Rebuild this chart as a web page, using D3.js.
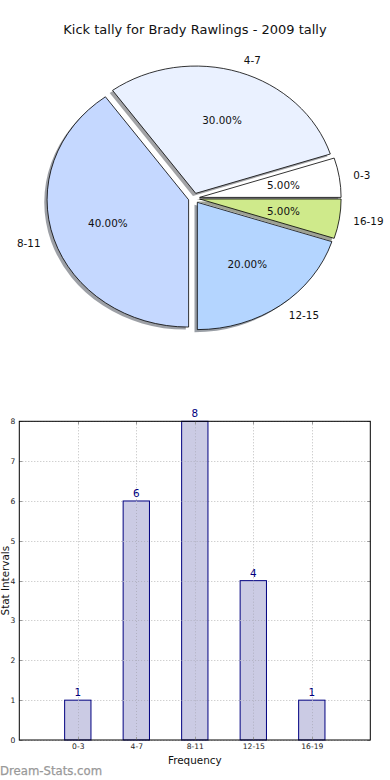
<!DOCTYPE html>
<html>
<head>
<meta charset="utf-8">
<script src="https://cdn.jsdelivr.net/npm/d3@7"></script>
<style>
  html, body { margin: 0; padding: 0; background: #fff; }
  svg { display: block; font-family: "DejaVu Sans", sans-serif; }
</style>
</head>
<body>
<svg id="chart" width="390" height="780"></svg>
<script>
const title = "Kick tally for Brady Rawlings - 2009 tally";
const categories = ["0-3", "4-7", "8-11", "12-15", "16-19"];
const counts = [1, 6, 8, 4, 1];
const pieColors = ["#ffffff", "#eaf1ff", "#c5d8ff", "#b4d5ff", "#cfea8b"];
const yTicks = [0, 1, 2, 3, 4, 5, 6, 7, 8];
const xLabel = "Frequency";
const yLabel = "Stat Intervals";
const watermark = "Dream-Stats.com";

const svg = d3.select("#chart");

svg.append("text").attr("x", 195).attr("y", 34).attr("text-anchor", "middle")
  .attr("font-size", 13).attr("fill", "#111").text(title);

// ---------- Pie (elliptical, exploded, shadowed) ----------
const P = { cx: 194, cy: 198.2, rx: 141.5, ry: 127.3, explode: 0.04 };
const total = d3.sum(counts);
const pie = d3.pie().sort(null).value(d => d)
  .startAngle(Math.PI / 2).endAngle(Math.PI / 2 - 2 * Math.PI);
const arcs = pie(counts);
const arcGen = d3.arc().innerRadius(0).outerRadius(1);
const dirOf = a => [Math.sin(a), -Math.cos(a)];

const pg = svg.append("g");
const shadowG = pg.append("g");
const wedgeG = pg.append("g");
const textG = pg.append("g");

arcs.forEach((a, i) => {
  const mid = (a.startAngle + a.endAngle) / 2;
  const [ux, uy] = dirOf(mid);
  const ox = P.cx + P.explode * ux * P.rx;
  const oy = P.cy + P.explode * uy * P.ry;
  const path = arcGen(a);
  const c = d3.rgb(pieColors[i]);
  const shade = d3.rgb(c.r * 0.3, c.g * 0.3, c.b * 0.3);
  shadowG.append("path").attr("d", path)
    .attr("transform", `translate(${ox - 0.02 * P.rx},${oy + 0.02 * P.ry}) scale(${P.rx},${P.ry})`)
    .attr("fill", shade).attr("fill-opacity", 0.5);
  wedgeG.append("path").attr("d", path)
    .attr("transform", `translate(${ox},${oy}) scale(${P.rx},${P.ry})`)
    .attr("fill", pieColors[i]).attr("stroke", "#000")
    .attr("stroke-width", 0.8).attr("vector-effect", "non-scaling-stroke")
    .attr("stroke-linejoin", "miter");
  const lx = ox + 1.1 * ux * P.rx, ly = oy + 1.1 * uy * P.ry;
  textG.append("text").attr("x", lx).attr("y", ly).attr("dy", "0.35em")
    .attr("text-anchor", (lx - P.cx) > 0 ? "start" : "end")
    .attr("font-size", 10.4).attr("fill", "#111").text(categories[i]);
  const px = ox + 0.6 * ux * P.rx, py = oy + 0.6 * uy * P.ry;
  textG.append("text").attr("x", px).attr("y", py).attr("dy", "0.35em")
    .attr("text-anchor", "middle").attr("font-size", 10.4).attr("fill", "#111")
    .text((100 * counts[i] / total).toFixed(2) + "%");
});

// ---------- Bar chart ----------
const B = { left: 19.3, right: 370.3, top: 421.3, bottom: 740 };
const x = d3.scaleLinear().domain([-1, 5]).range([B.left, B.right]);
const y = d3.scaleLinear().domain([0, 8]).range([B.bottom, B.top]);
const barW = 0.45;
const bg = svg.append("g");

const gridG = bg.append("g").attr("stroke", "#bdbdbd").attr("stroke-width", 1)
  .attr("stroke-dasharray", "1,2");
yTicks.forEach(t => gridG.append("line")
  .attr("x1", B.left).attr("x2", B.right).attr("y1", Math.round(y(t)) + 0.5).attr("y2", Math.round(y(t)) + 0.5));
categories.forEach((c, i) => gridG.append("line")
  .attr("y1", B.top).attr("y2", B.bottom).attr("x1", Math.round(x(i)) + 0.5).attr("x2", Math.round(x(i)) + 0.5));

bg.append("g").selectAll("rect").data(counts).join("rect")
  .attr("x", (d, i) => x(i - barW / 2)).attr("width", x(barW) - x(0))
  .attr("y", d => y(d)).attr("height", d => y(0) - y(d))
  .attr("fill", "#cbcbe4").attr("stroke", "#000080").attr("stroke-width", 1);

const grid2 = bg.append("g").attr("stroke", "#b0b0c0").attr("stroke-width", 1)
  .attr("stroke-dasharray", "1,2");
counts.forEach((d, i) => grid2.append("line")
  .attr("y1", y(d)).attr("y2", B.bottom).attr("x1", Math.round(x(i)) + 0.5).attr("x2", Math.round(x(i)) + 0.5));
counts.forEach((d, i) => yTicks.filter(t => t > 0 && t < d).forEach(t => grid2.append("line")
  .attr("x1", x(i - barW / 2)).attr("x2", x(i + barW / 2))
  .attr("y1", Math.round(y(t)) + 0.5).attr("y2", Math.round(y(t)) + 0.5)));

bg.append("g").selectAll("text").data(counts).join("text")
  .attr("x", (d, i) => x(i)).attr("y", d => y(d) - 4)
  .attr("text-anchor", "middle").attr("font-size", 10.4).attr("fill", "#000080")
  .text(d => d);

const yAxis = d3.axisLeft(y).tickValues(yTicks).tickSize(0).tickPadding(4);
const xAxis = d3.axisBottom(x).tickValues(d3.range(categories.length))
  .tickFormat(i => categories[i]).tickSize(0).tickPadding(4);
const ya = bg.append("g").attr("transform", `translate(${B.left},0)`).call(yAxis);
const xa = bg.append("g").attr("transform", `translate(0,${B.bottom})`).call(xAxis);
[ya, xa].forEach(a => {
  a.select(".domain").remove();
  a.selectAll("text").attr("font-size", 7.6).attr("fill", "#222")
    .attr("font-family", "DejaVu Sans");
});

const tg = bg.append("g").attr("stroke", "#999").attr("stroke-width", 1);
yTicks.forEach(t => {
  const yy = Math.round(y(t)) + 0.5;
  tg.append("line").attr("x1", B.left).attr("x2", B.left + 3).attr("y1", yy).attr("y2", yy);
  tg.append("line").attr("x1", B.right - 3).attr("x2", B.right).attr("y1", yy).attr("y2", yy);
});
categories.forEach((c, i) => {
  const xx = Math.round(x(i)) + 0.5;
  tg.append("line").attr("x1", xx).attr("x2", xx).attr("y1", B.top).attr("y2", B.top + 3);
  tg.append("line").attr("x1", xx).attr("x2", xx).attr("y1", B.bottom - 3).attr("y2", B.bottom);
});

bg.append("rect").attr("x", B.left).attr("y", B.top)
  .attr("width", B.right - B.left).attr("height", B.bottom - B.top)
  .attr("fill", "none").attr("stroke", "#000").attr("stroke-width", 1);

svg.append("text").attr("x", (B.left + B.right) / 2).attr("y", 764)
  .attr("text-anchor", "middle").attr("font-size", 10.4).attr("fill", "#111").text(xLabel);
svg.append("text").attr("transform", `translate(9,${(B.top + B.bottom) / 2}) rotate(-90)`)
  .attr("text-anchor", "middle").attr("font-size", 10.4).attr("fill", "#111").text(yLabel);

svg.append("text").attr("x", 0).attr("y", 775).attr("font-size", 11.7)
  .attr("fill", "#999").attr("stroke", "#999").attr("stroke-width", 0.25)
  .text(watermark);
</script>
</body>
</html>
